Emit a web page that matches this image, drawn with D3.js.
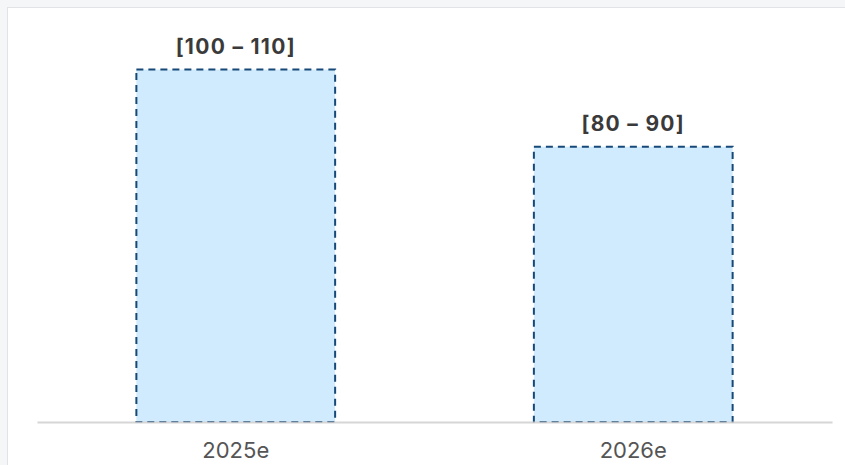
<!DOCTYPE html>
<html>
<head>
<meta charset="utf-8">
<script src="https://cdn.jsdelivr.net/npm/d3@7"></script>
<style>
  body { margin: 0; background: #f5f6f8; }
  svg { display: block; }
</style>
</head>
<body>
<svg id="chart" width="845" height="465"></svg>
<script>
// data
var years = ["2025e", "2026e"];
var values = [105, 82];          // bar height (estimated)
var rangeLabels = ["[100 \u2013 110]", "[80 \u2013 90]"];

var svg = d3.select('#chart');

// white panel
svg.append('rect')
  .attr('x', 7.5).attr('y', 7.5)
  .attr('width', 845).attr('height', 465)
  .attr('fill', '#fff')
  .attr('stroke', '#e2e3e6');

var margin = {left: 37, right: 13, top: 36, bottom: 43};
var w = 845 - margin.left - margin.right;
var h = 465 - margin.top - margin.bottom;

var data = [];
for (var i = 0; i < years.length; i++) {
  data.push({year: years[i], val: values[i], label: rangeLabels[i]});
}

var x = d3.scaleBand()
  .domain(years)
  .range([margin.left, margin.left + w])
  .paddingInner(0.5)
  .paddingOuter(0.25);

var y = d3.scaleLinear()
  .domain([0, 115])
  .range([margin.top + h, margin.top]);

var g = svg.append('g');

g.selectAll('rect.bar')
  .data(data)
  .enter()
  .append('rect')
  .attr('class', 'bar')
  .attr('x', d => x(d.year))
  .attr('y', d => y(d.val))
  .attr('width', x.bandwidth())
  .attr('height', d => y(0) - y(d.val))
  .attr('fill', '#d0ebfd')
  .attr('stroke', '#164878')
  .attr('stroke-width', 2)
  .attr('stroke-dasharray', '7,5');

g.selectAll('text.lbl')
  .data(data)
  .enter()
  .append('text')
  .attr('class', 'lbl')
  .attr('x', d => x(d.year) + x.bandwidth() / 2)
  .attr('y', d => y(d.val) - 16)
  .attr('text-anchor', 'middle')
  .attr('font-family', 'Inter, sans-serif')
  .attr('font-weight', 'bold')
  .attr('font-size', 21)
  .attr('letter-spacing', 1.3)
  .attr('fill', '#3a3a3a')
  .text(d => d.label);

// x axis
var xAxis = d3.axisBottom(x).tickSize(0).tickPadding(20);
var xAxisEl = svg.append('g')
  .attr('transform', 'translate(0,' + y(0) + ')')
  .call(xAxis);
xAxisEl.select('.domain')
  .attr('stroke', '#cfcfcf')
  .attr('stroke-opacity', 0.85)
  .attr('stroke-width', 2);
xAxisEl.selectAll('text')
  .attr('font-family', 'Inter, sans-serif')
  .attr('font-size', 22)
  .attr('fill', '#555');
</script>
</body>
</html>
